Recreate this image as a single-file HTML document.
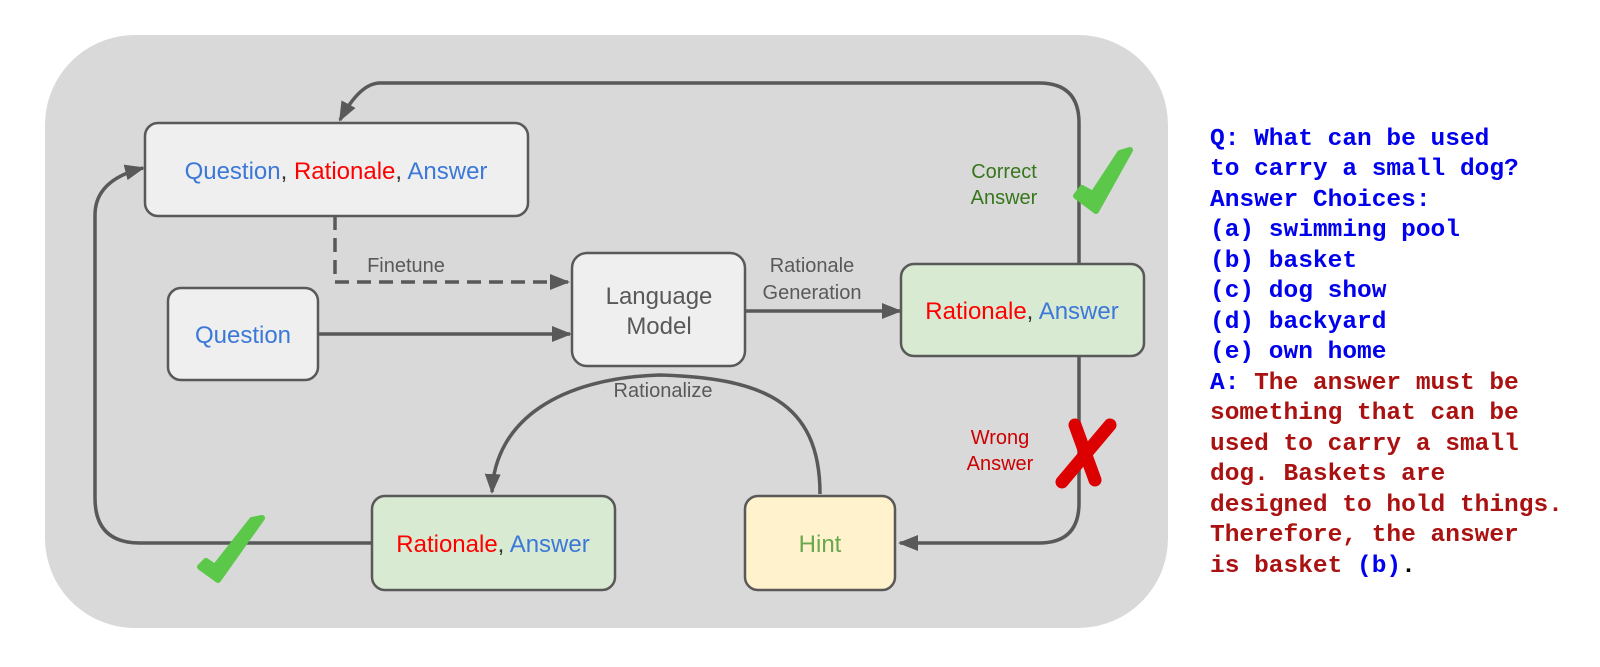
<!DOCTYPE html>
<html><head><style>
body{margin:0;background:#fff;width:1600px;height:667px;overflow:hidden}
svg{position:absolute;left:0;top:0}
.m{font-family:"Liberation Mono",monospace;font-size:24.5px;font-weight:bold}
</style></head><body>
<svg width="1600" height="667" viewBox="0 0 1600 667">
<defs>
<marker id="ah2" markerWidth="20" markerHeight="16" refX="18" refY="8" orient="auto" markerUnits="userSpaceOnUse" viewBox="0 0 20 16">
<path d="M0,0 L20,8 L0,16 z" fill="#595959"/></marker>
</defs>
<rect x="45" y="35" width="1123" height="593" rx="90" fill="#d9d9d9"/>
<g fill="none" stroke="#595959" stroke-width="3.5">
<path d="M1079,264 L1079,123 Q1079,83 1039,83 L380,83 Q360,83 340,120" marker-end="url(#ah2)"/>
<path d="M1079,356 L1079,503 Q1079,543 1039,543 L900,543" marker-end="url(#ah2)"/>
<path d="M820,494 C820,400 760,378 660,375 C560,378 495,420 492,492" marker-end="url(#ah2)"/>
<path d="M372,543 L140,543 Q95,543 95,498 L95,215 Q95,180 143,168" marker-end="url(#ah2)"/>
<path d="M335,216 L335,282 L568,282" stroke-dasharray="14,8" marker-end="url(#ah2)"/>
<path d="M318,334 L570,334" marker-end="url(#ah2)"/>
<path d="M745,311 L900,311" marker-end="url(#ah2)"/>
</g>
<g stroke="#595959" stroke-width="2.5">
<rect x="145" y="123" width="383" height="93" rx="13" fill="#efefef"/>
<rect x="168" y="288" width="150" height="92" rx="13" fill="#efefef"/>
<rect x="572" y="253" width="173" height="113" rx="15" fill="#efefef"/>
<rect x="901" y="264" width="243" height="92" rx="13" fill="#d9ead3"/>
<rect x="372" y="496" width="243" height="94" rx="13" fill="#d9ead3"/>
<rect x="745" y="496" width="150" height="94" rx="13" fill="#fff2cc"/>
</g>
<g font-family="Liberation Sans, sans-serif" font-size="24" text-anchor="middle">
<text x="336" y="179"><tspan fill="#3c78d8">Question</tspan><tspan fill="#333">, </tspan><tspan fill="#ff0000">Rationale</tspan><tspan fill="#333">, </tspan><tspan fill="#3c78d8">Answer</tspan></text>
<text x="243" y="343" fill="#3c78d8">Question</text>
<text x="659" y="304" fill="#595959">Language</text>
<text x="659" y="334" fill="#595959">Model</text>
<text x="1022" y="319"><tspan fill="#ff0000">Rationale</tspan><tspan fill="#333">, </tspan><tspan fill="#3c78d8">Answer</tspan></text>
<text x="493" y="552"><tspan fill="#ff0000">Rationale</tspan><tspan fill="#333">, </tspan><tspan fill="#3c78d8">Answer</tspan></text>
<text x="820" y="552" fill="#6aa84f">Hint</text>
</g>
<g font-family="Liberation Sans, sans-serif" font-size="20" fill="#595959" text-anchor="middle">
<text x="406" y="272">Finetune</text>
<text x="812" y="272">Rationale</text>
<text x="812" y="299">Generation</text>
<text x="663" y="397">Rationalize</text>
<text x="1004" y="178" fill="#38761d">Correct</text>
<text x="1004" y="204" fill="#38761d">Answer</text>
<text x="1000" y="444" fill="#cc0000">Wrong</text>
<text x="1000" y="470" fill="#cc0000">Answer</text>
</g>
<path d="M1076,196 L1096,211 L1130,150 L1120,153 L1093,194 L1082,188 Z" fill="#5cc84a" stroke="#5cc84a" stroke-width="6" stroke-linejoin="round"/>
<path d="M200,567 L218,580 L262,518 L252,520 L215,567 L206,561 Z" fill="#5cc84a" stroke="#5cc84a" stroke-width="6" stroke-linejoin="round"/>
<g stroke="#dd0000" stroke-width="13" stroke-linecap="round">
<line x1="1075" y1="425" x2="1095" y2="480"/>
<line x1="1110" y1="425" x2="1062" y2="482"/>
</g>
<g class="m">
<text x="1210" y="145" fill="#0000ee">Q: What can be used</text>
<text x="1210" y="175" fill="#0000ee">to carry a small dog?</text>
<text x="1210" y="206" fill="#0000ee">Answer Choices:</text>
<text x="1210" y="236" fill="#0000ee">(a) swimming pool</text>
<text x="1210" y="267" fill="#0000ee">(b) basket</text>
<text x="1210" y="297" fill="#0000ee">(c) dog show</text>
<text x="1210" y="328" fill="#0000ee">(d) backyard</text>
<text x="1210" y="358" fill="#0000ee">(e) own home</text>
<text x="1210" y="389"><tspan fill="#0000ee">A: </tspan><tspan fill="#aa1111">The answer must be</tspan></text>
<text x="1210" y="419" fill="#aa1111">something that can be</text>
<text x="1210" y="450" fill="#aa1111">used to carry a small</text>
<text x="1210" y="480" fill="#aa1111">dog. Baskets are</text>
<text x="1210" y="511" fill="#aa1111">designed to hold things.</text>
<text x="1210" y="541" fill="#aa1111">Therefore, the answer</text>
<text x="1210" y="572"><tspan fill="#aa1111">is basket </tspan><tspan fill="#0000ee">(b)</tspan><tspan fill="#000">.</tspan></text>
</g>
</svg>
</body></html>
